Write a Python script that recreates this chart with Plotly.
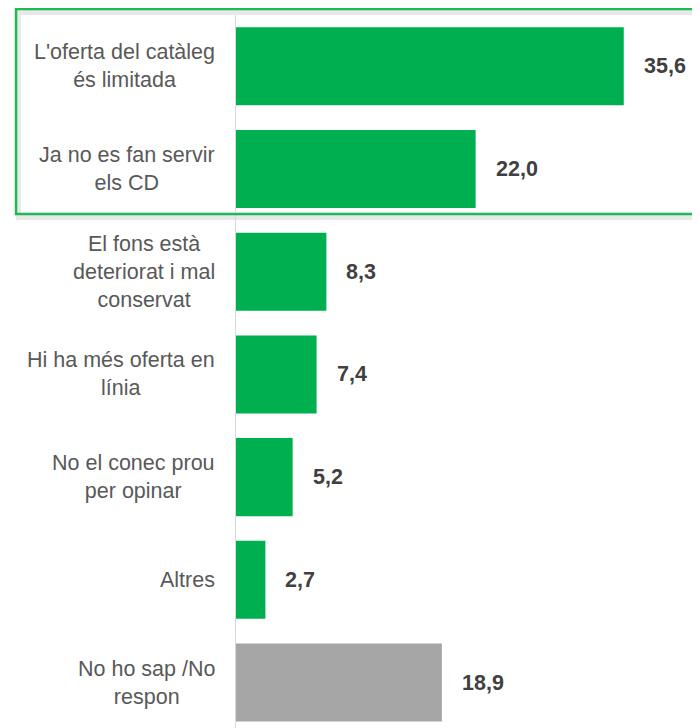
import plotly.graph_objects as go

labels = [
    "L'oferta del catàleg<br>és limitada",
    "Ja no es fan servir<br>els CD",
    "El fons està<br>deteriorat i mal<br>conservat",
    "Hi ha més oferta en<br>línia",
    "No el conec prou<br>per opinar",
    "Altres",
    "No ho sap /No<br>respon",
]
values = [35.6, 22.0, 8.3, 7.4, 5.2, 2.7, 18.9]
colors = ["#00B050"] * 6 + ["#A6A6A6"]

pos = list(range(len(values)))
FONT = "Liberation Sans, Arial, sans-serif"

fig = go.Figure()
fig.add_trace(go.Bar(
    x=values,
    y=pos,
    orientation="h",
    marker=dict(color=colors, line=dict(width=0)),
    width=0.76,
    hoverinfo="skip",
))

annotations = []
for p, lab, v in zip(pos, labels, values):
    annotations.append(dict(
        x=0, y=p, xref="x", yref="y", text=lab, showarrow=False,
        xanchor="right", yanchor="middle", align="center", xshift=-19,
        font=dict(family=FONT, size=21.5, color="#595959"),
    ))
    annotations.append(dict(
        x=v, y=p, xref="x", yref="y", text="<b>" + f"{v:.1f}".replace(".", ",") + "</b>",
        showarrow=False, xanchor="left", yanchor="middle", xshift=18,
        font=dict(family=FONT, size=21.5, color="#404040"),
    ))

# highlight box around the first two categories (paper coords, plot area 464x713 px)
bx0, bx1, by0, by1 = -0.4741, 1.01, 0.7209, 1.0084
shapes = [
    dict(type="rect", xref="paper", yref="paper",
         x0=bx0 + 0.005, x1=bx1, y0=by0 - 0.005, y1=by1 - 0.005,
         line=dict(color="rgba(0,0,0,0.09)", width=5), layer="below"),
    dict(type="rect", xref="paper", yref="paper",
         x0=bx0, x1=bx1, y0=by0, y1=by1,
         line=dict(color="#1DB954", width=2.5), layer="above"),
]

fig.update_layout(
    width=692, height=720,
    margin=dict(l=228, r=0, t=7, b=0),
    paper_bgcolor="white", plot_bgcolor="white",
    showlegend=False,
    xaxis=dict(range=[0, 42.6], showgrid=False, zeroline=False, showticklabels=False,
               showline=False, fixedrange=True),
    yaxis=dict(range=[6.443, -0.5], showgrid=False, zeroline=False, showticklabels=False,
               showline=True, linecolor="#D9D9D9", linewidth=1, fixedrange=True),
    annotations=annotations,
    shapes=shapes,
)

fig.write_html("out.html")
